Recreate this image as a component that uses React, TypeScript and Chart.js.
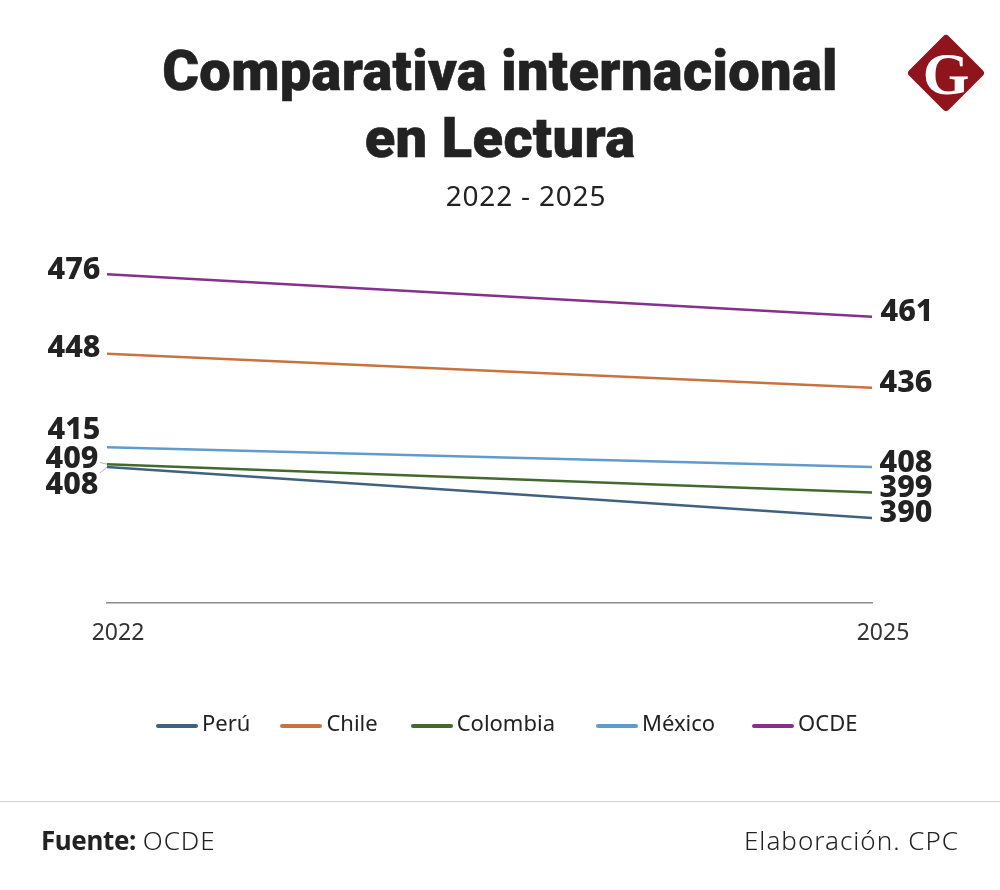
import { useEffect, useRef } from 'react';
import { Chart, registerables } from 'chart.js';

Chart.register(...registerables);

const FONT = '"Noto Sans", sans-serif';
const TEXT_COLOR = '#222222';

const years = ['2022', '2025'];
const peru = [408, 390];
const chile = [448, 436];
const colombia = [409, 399];
const mexico = [415, 408];
const ocde = [476, 461];

const seriesNames = ['Perú', 'Chile', 'Colombia', 'México', 'OCDE'];
const seriesValues = [peru, chile, colombia, mexico, ocde];
const seriesColors = ['#3f6283', '#c8733f', '#44692f', '#5f9ccd', '#86308c'];

// label nudges in px from the point [dx, dy], one per series, left then right end
const leftNudge = [[-35, 18], [-33, -5], [-35, -5], [-33, -17], [-33, -4]];
const rightNudge = [[34, -5], [34, -4], [34, -4], [34, -4], [35, -5]];
// space before each legend item, the reference is not evenly spaced
const legendGaps = [0, 30, 33, 41, 37];

const valueLabels = {
    id: 'valueLabels',
    afterDatasetsDraw(chart: Chart) {
        const { ctx } = chart;
        ctx.save();
        ctx.font = `800 30.5px ${FONT}`;
        ctx.fillStyle = TEXT_COLOR;
        ctx.textAlign = 'center';
        ctx.textBaseline = 'middle';
        chart.data.datasets.forEach((ds, i) => {
            const points = chart.getDatasetMeta(i).data;
            points.forEach((pt, j) => {
                const [dx, dy] = j === 0 ? leftNudge[i] : rightNudge[i];
                // Perú and Colombia start too close together, so they get leader lines
                if (j === 0 && (seriesNames[i] === 'Perú' || seriesNames[i] === 'Colombia')) {
                    ctx.strokeStyle = '#b5b5b5';
                    ctx.lineWidth = 1;
                    ctx.beginPath();
                    ctx.moveTo(pt.x, pt.y);
                    ctx.lineTo(pt.x - 7, pt.y + dy / 3);
                    ctx.stroke();
                }
                ctx.fillText(String(ds.data[j]), pt.x + dx, pt.y + dy);
            });
        });
        ctx.restore();
    }
};

function Logo() {
    return (
        <svg width="80" height="80" viewBox="0 0 80 80" style={{ position: 'absolute', left: 905.5, top: 33 }}>
            <rect x="12" y="12" width="56" height="56" rx="4" fill="#8f141c" transform="rotate(45 40 40)" />
            <text x="40" y="61" textAnchor="middle" fill="#ffffff" fontFamily='"Liberation Serif", serif' fontWeight="bold" fontSize="60">G</text>
        </svg>
    );
}

export default function App() {
    const chartRef = useRef<HTMLCanvasElement>(null);

    useEffect(() => {
        if (!chartRef.current) return;

        const chart = new Chart(chartRef.current, {
            type: 'line',
            data: {
                labels: years,
                datasets: seriesNames.map((name, i) => ({
                    label: name,
                    data: seriesValues[i],
                    borderColor: seriesColors[i],
                    backgroundColor: seriesColors[i],
                    borderWidth: 2.5,
                    pointRadius: 0,
                    tension: 0
                }))
            },
            options: {
                animation: false,
                responsive: false,
                layout: { padding: { left: 107, right: 128, top: 263, bottom: 0 } },
                plugins: {
                    legend: { display: false },
                    title: { display: false },
                    tooltip: { enabled: false }
                },
                scales: {
                    x: {
                        offset: false,
                        grid: { display: false, drawTicks: false },
                        border: { display: true, color: '#8a8a8a', width: 1.5 },
                        afterFit: (scale: any) => { scale.height = 287; },
                        ticks: {
                            color: '#333333',
                            font: { family: FONT, size: 23 },
                            padding: 17,
                            labelOffset: 11,
                            maxRotation: 0,
                            autoSkip: false
                        }
                    },
                    y: {
                        display: false,
                        min: 360,
                        max: 480
                    }
                }
            },
            plugins: [valueLabels]
        });

        return () => chart.destroy();
    }, []);

    return (
        <div style={{ position: 'absolute', left: 0, top: 0, width: 1000, height: 890, background: '#ffffff', overflow: 'hidden', fontFamily: FONT, color: TEXT_COLOR }}>
            <canvas ref={chartRef} width={1000} height={890} style={{ position: 'absolute', left: 0, top: 0, width: 1000, height: 890 }} />

            <div style={{ position: 'absolute', left: 0, top: 38, width: 1000, textAlign: 'center', fontFamily: 'Roboto, sans-serif', fontSize: 56, fontWeight: 900, lineHeight: '67px', letterSpacing: 0.35, WebkitTextStroke: '0.6px #222222' }}>
                Comparativa internacional<br />en Lectura
            </div>
            <div style={{ position: 'absolute', left: 26, top: 176, width: 1000, textAlign: 'center', fontSize: 28, letterSpacing: 0.8, lineHeight: '38px' }}>
                2022 - 2025
            </div>
            <Logo />

            <div style={{ position: 'absolute', left: 156, top: 705, display: 'flex', fontSize: 22, lineHeight: '34px' }}>
                {seriesNames.map((name, i) => (
                    <div key={name} style={{ display: 'flex', alignItems: 'center', gap: 4, marginLeft: legendGaps[i] }}>
                        <span style={{ display: 'inline-block', width: 42, height: 4, borderRadius: 2, marginTop: 7, background: seriesColors[i] }} />
                        <span>{name}</span>
                    </div>
                ))}
            </div>

            <div style={{ position: 'absolute', left: 0, top: 801, width: 1000, borderTop: '1px solid #cfcfcf' }} />
            <div style={{ position: 'absolute', left: 41, top: 822, fontSize: 26, lineHeight: '36px', fontWeight: 300 }}>
                <b style={{ fontWeight: 700, letterSpacing: -0.4 }}>Fuente:</b> <span style={{ letterSpacing: 1 }}>OCDE</span>
            </div>
            <div style={{ position: 'absolute', right: 41, top: 822, fontSize: 26, lineHeight: '36px', fontWeight: 300, letterSpacing: 1 }}>
                Elaboración. CPC
            </div>
        </div>
    );
}
